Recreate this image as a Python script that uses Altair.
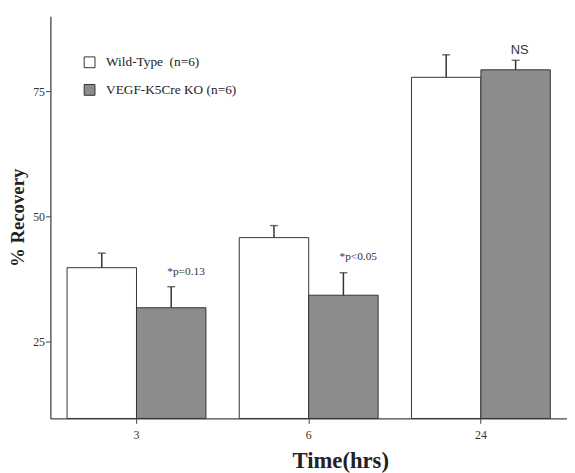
import altair as alt
import pandas as pd

times = ["3", "6", "24"]
groups = ["Wild-Type\u00a0 (n=6)", "VEGF-K5Cre KO (n=6)"]
wt_mean = [39.8, 45.8, 77.8]
wt_err = [42.7, 48.2, 82.3]
ko_mean = [31.8, 34.3, 79.3]
ko_err = [36.0, 38.8, 81.2]
p_labels = ["*p=0.13", "*p<0.05"]
p_times = ["3", "6"]
p_y = [39.0, 41.9]
ns_label = ["NS"]
ns_time = ["24"]
ns_y = [83.3]

rows = []
for i, t in enumerate(times):
    rows.append({"time": t, "group": groups[0], "mean": wt_mean[i], "err": wt_err[i]})
    rows.append({"time": t, "group": groups[1], "mean": ko_mean[i], "err": ko_err[i]})
df = pd.DataFrame(rows)

pdf = pd.DataFrame({"time": p_times, "group": [groups[1]] * 2, "y": p_y, "label": p_labels})
nsdf = pd.DataFrame({"time": ns_time, "group": [groups[1]], "y": ns_y, "label": ns_label})

SERIF = "Liberation Serif"
YMIN = 9.7

x_enc = alt.X(
    "time:N", sort=times,
    scale=alt.Scale(paddingInner=0, paddingOuter=0, align=0),
    axis=alt.Axis(title="Time(hrs)", labelAngle=0, labelFont=SERIF, labelFontSize=12,
                  labelColor="#333", titleFont=SERIF, titleFontSize=23, titleFontWeight="bold",
                  titleColor="#222", domainColor="#444", tickColor="#444", tickSize=5,
                  labelPadding=6, titlePadding=10, titleX=294, domainWidth=1.3),
)
xo_enc = alt.XOffset("group:N", sort=groups, scale=alt.Scale(paddingInner=0, paddingOuter=0.24))
y_scale = alt.Scale(domain=[YMIN, 90], nice=False, zero=False)

bars = alt.Chart(df).mark_bar(stroke="#333", strokeWidth=1).encode(
    x=x_enc,
    xOffset=xo_enc,
    y=alt.Y("mean:Q", scale=y_scale,
            axis=alt.Axis(title="% Recovery", values=[25, 50, 75], grid=False,
                          labelFont=SERIF, labelFontSize=12, labelColor="#333",
                          titleFont=SERIF, titleFontSize=19, titleFontWeight="bold",
                          titleColor="#222", domainColor="#444", tickColor="#444",
                          tickSize=5, labelPadding=1, titlePadding=5, domainWidth=1.3)),
    y2=alt.Y2(datum=YMIN),
    fill=alt.Fill("group:N", sort=groups,
                  scale=alt.Scale(domain=groups, range=["#ffffff", "#8c8c8c"]),
                  legend=alt.Legend(title=None, orient="none", legendX=33, legendY=40,
                                    symbolType="square", symbolSize=120,
                                    symbolStrokeColor="#333", symbolStrokeWidth=1,
                                    labelFont=SERIF, labelFontSize=13.5, labelColor="#222",
                                    labelOffset=10, rowPadding=12)),
)

rules = alt.Chart(df).mark_rule(color="#333", strokeWidth=1.5).encode(
    x=alt.X("time:N", sort=times), xOffset=alt.XOffset("group:N", sort=groups),
    y=alt.Y("mean:Q"), y2="err:Q",
)
caps = alt.Chart(df).mark_tick(color="#333", thickness=1.5, size=8).encode(
    x=alt.X("time:N", sort=times), xOffset=alt.XOffset("group:N", sort=groups),
    y=alt.Y("err:Q"),
)
ptext = alt.Chart(pdf).mark_text(align="left", dx=-4, font=SERIF, fontSize=11.5, color="#333").encode(
    x=alt.X("time:N", sort=times), xOffset=alt.XOffset("group:N", sort=groups),
    y=alt.Y("y:Q"), text="label:N",
)
nstext = alt.Chart(nsdf).mark_text(align="center", dx=4, font="Liberation Sans Narrow, Liberation Sans",
                                   fontSize=13, color="#333").encode(
    x=alt.X("time:N", sort=times), xOffset=alt.XOffset("group:N", sort=groups),
    y=alt.Y("y:Q"), text="label:N",
)

chart = alt.layer(bars, rules, caps, ptext, nstext).properties(
    width=524, height=408,
    autosize=alt.AutoSizeParams(type="none"),
    padding={"left": 43, "top": 5, "right": 0, "bottom": 52},
    background="white",
).configure_view(stroke=None)

chart.save("out.html", embed_options={"renderer": "svg", "actions": False})
